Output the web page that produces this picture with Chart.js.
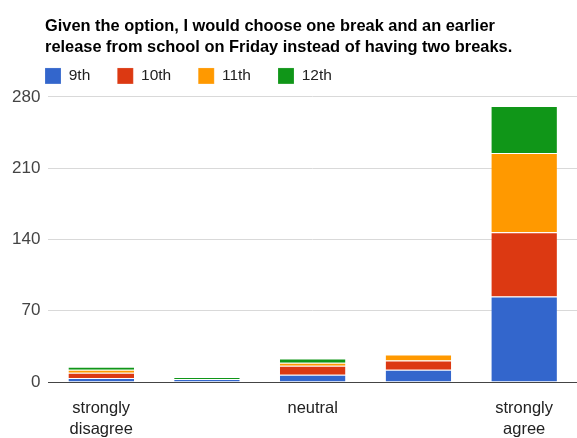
<!DOCTYPE html>
<html lang="en">
<head>
  <meta charset="UTF-8">
  <title>One break vs two breaks</title>
  <script src="https://cdn.jsdelivr.net/npm/chart.js"></script>
  <style>
    body { margin: 0; background: #fff; font-family: Arial, sans-serif; }
    #wrap { width: 577px; height: 438px; }
  </style>
</head>
<body>
  <div id="wrap"><canvas id="breaksChart" width="577" height="438"></canvas></div>
  <script>
    const answers = [['strongly', 'disagree'], '', 'neutral', '', ['strongly', 'agree']];
    const grade9 = [4, 3, 7, 12, 84];
    const grade10 = [5, 0, 9, 9, 63];
    const grade11 = [3, 0, 3, 6, 78];
    const grade12 = [3, 2, 4, 0, 46];
    const yTicks = [0, 70, 140, 210, 280];

    const HEADER_LEFT = 45;
    const LEGEND_PAD = 27;
    const LEGEND_LIFT = 3;

    function series(label, data, color) {
      return {
        label: label,
        data: data,
        backgroundColor: color,
        borderColor: 'rgba(255,255,255,0.7)',
        borderWidth: { top: 1, left: 0, right: 0, bottom: 0 },
        borderSkipped: false,
        barPercentage: 0.62,
        categoryPercentage: 1
      };
    }

    // title and legend sit a bit left of the plot area, legend a little higher
    const nudgeHeader = {
      id: 'nudgeHeader',
      beforeDraw(chart) {
        chart.titleBlock.left = HEADER_LEFT;
        chart.legend.left = HEADER_LEFT - LEGEND_PAD;
        chart.legend.top -= LEGEND_LIFT;
      }
    };

    const ctx = document.getElementById('breaksChart').getContext('2d');
    new Chart(ctx, {
      type: 'bar',
      data: {
        labels: answers,
        datasets: [
          series('9th', grade9, '#3366cc'),
          series('10th', grade10, '#dc3912'),
          series('11th', grade11, '#ff9900'),
          series('12th', grade12, '#109618')
        ]
      },
      plugins: [nudgeHeader],
      options: {
        responsive: false,
        animation: false,
        layout: { padding: { left: 4, right: 0, top: 15, bottom: 0 } },
        plugins: {
          tooltip: { enabled: false },
          title: {
            display: true,
            fullSize: false,
            align: 'start',
            text: ['Given the option, I would choose one break and an earlier',
                   'release from school on Friday instead of having two breaks.'],
            color: '#000',
            font: { family: 'Arial', size: 16.4, weight: 'bold', lineHeight: 1.34 },
            padding: { top: 0, bottom: -18 + LEGEND_LIFT }
          },
          legend: {
            fullSize: false,
            align: 'start',
            labels: {
              boxWidth: 16,
              boxHeight: 16,
              padding: LEGEND_PAD,
              color: '#222',
              font: { family: 'Arial', size: 15.5 }
            }
          }
        },
        scales: {
          x: {
            stacked: true,
            grid: { display: false },
            border: { color: '#444', width: 1 },
            afterFit: axis => { axis.height = 56; },
            ticks: {
              color: '#222',
              font: { family: 'Arial', size: 16.5, lineHeight: 1.27 },
              padding: 8,
              maxRotation: 0,
              autoSkip: false
            }
          },
          y: {
            stacked: true,
            min: 0,
            max: 280,
            afterBuildTicks: axis => { axis.ticks = yTicks.map(v => ({ value: v })); },
            grid: { color: '#d9d9d9', drawTicks: false },
            border: { display: false },
            ticks: {
              color: '#444',
              font: { family: 'Arial', size: 17 },
              padding: 8
            }
          }
        }
      }
    });
  </script>
</body>
</html>
